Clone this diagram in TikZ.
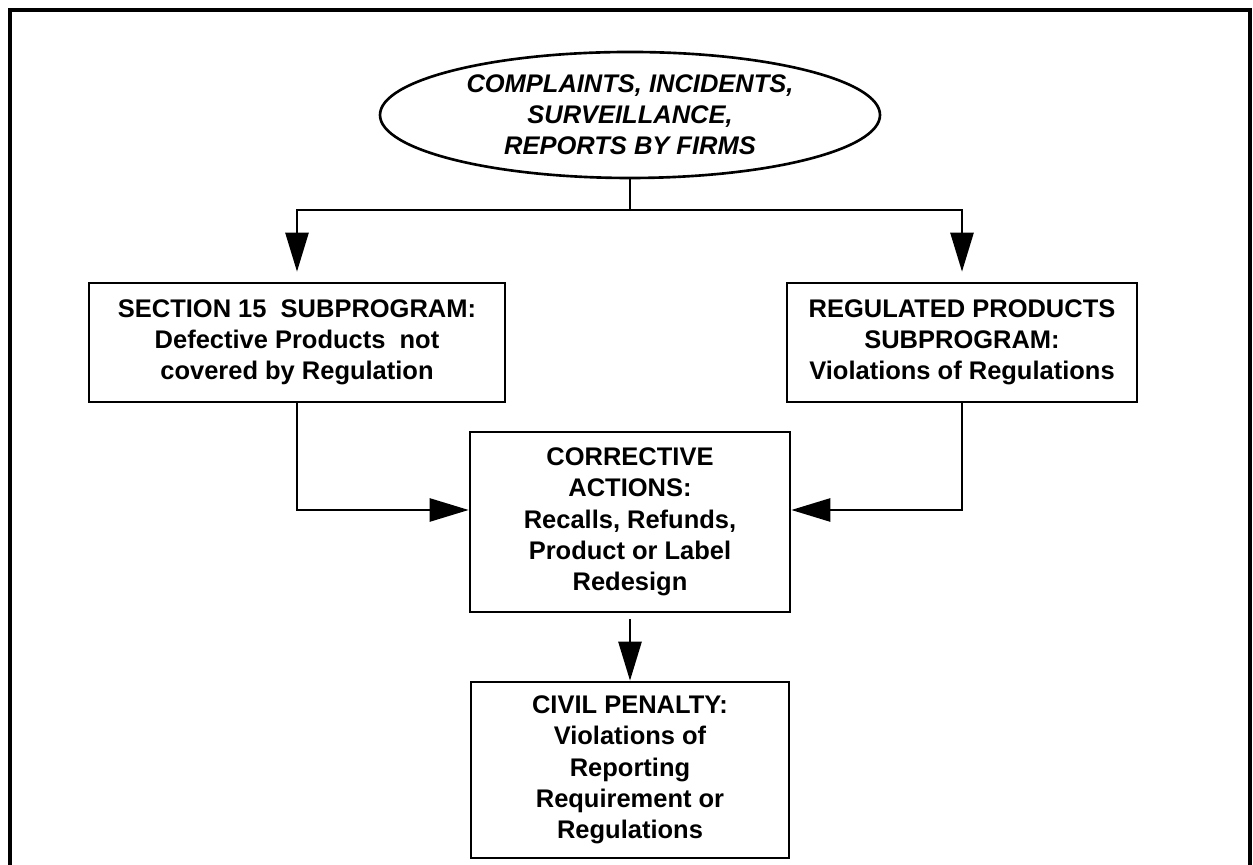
\documentclass[tikz,border=0pt]{standalone}
\usepackage{fontspec}
\setmainfont{Liberation Sans}
\usepackage{tikz}
\usetikzlibrary{shapes.geometric,arrows.meta}

\begin{document}
\begin{tikzpicture}[
		line width=1.5pt,
		box/.style={draw, align=center, inner sep=0pt, font=\bfseries\fontsize{14.5}{17.8}\selectfont},
		flow/.style={-{Triangle[width=0.46cm,length=0.78cm]}}
	]
		\useasboundingbox (0,0) rectangle (25.06,17.3);
		% frame, open at the bottom
		\draw[line width=2pt] (0.2,0) -- (0.2,17.1) -- (25.0,17.1) -- (25.0,0);
		\node[draw, ellipse, minimum width=10cm, minimum height=2.52cm, inner sep=0pt, align=center,
			font=\bfseries\itshape\fontsize{14.5}{17.6}\selectfont] (src) at (12.6,15.0)
			{COMPLAINTS, INCIDENTS,\\ SURVEILLANCE,\\ REPORTS BY FIRMS};
		\node[box, minimum width=8.32cm, minimum height=2.38cm] (sec) at (5.94,10.45)
			{SECTION 15\ \ SUBPROGRAM:\\ Defective Products\ \ not\\ covered by Regulation};
		\node[box, minimum width=7.0cm, minimum height=2.38cm] (reg) at (19.24,10.45)
			{REGULATED PRODUCTS\\ SUBPROGRAM:\\ Violations of Regulations};
		\node[box, minimum width=6.4cm, minimum height=3.6cm] (corr) at (12.6,6.86)
			{CORRECTIVE\\ ACTIONS:\\ Recalls, Refunds,\\ Product or Label\\ Redesign};
		\node[box, minimum width=6.36cm, minimum height=3.52cm] (pen) at (12.6,1.9)
			{CIVIL PENALTY:\\ Violations of\\ Reporting\\ Requirement or\\ Regulations};
		\coordinate (split) at (12.6,13.1);
		\draw (src.south) -- (split);
		\draw[flow, shorten >=0.2cm] (split) -| (sec.north);
		\draw[flow, shorten >=0.2cm] (split) -| (reg.north);
		\draw[flow] (sec.south) |- ([yshift=0.24cm]corr.west);
		\draw[flow] (reg.south) |- ([yshift=0.24cm]corr.east);
		\draw[flow, shorten <=0.12cm] (corr.south) -- (pen.north);
	\end{tikzpicture}
\end{document}
